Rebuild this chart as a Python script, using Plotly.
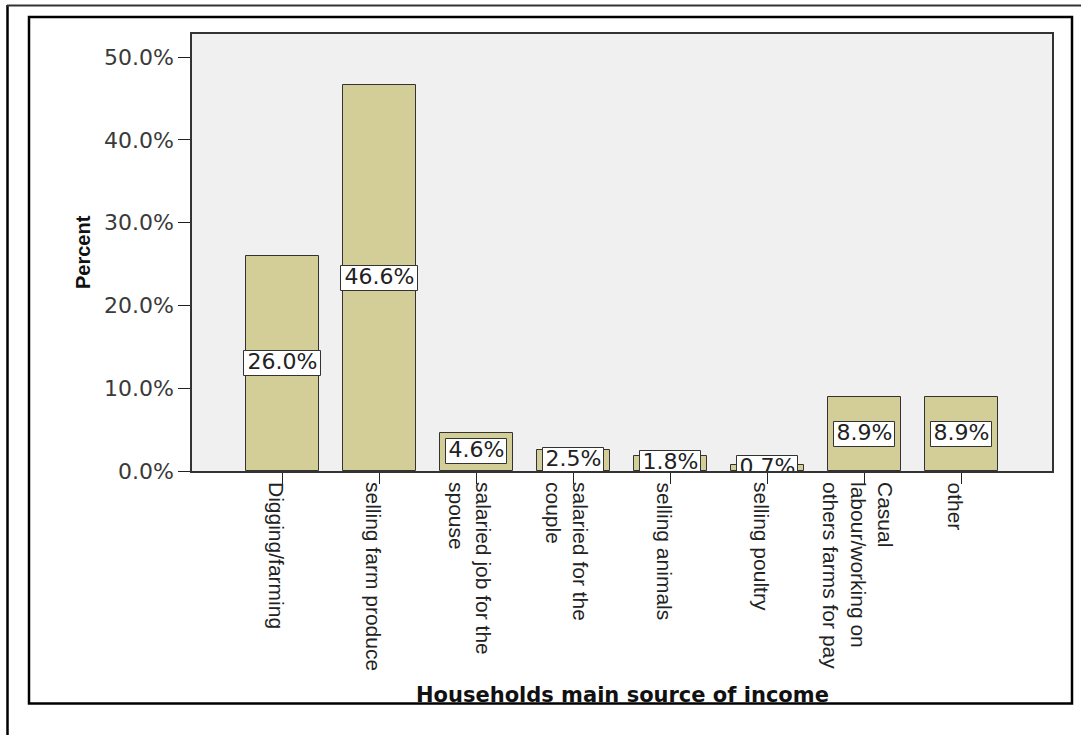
import plotly.graph_objects as go

# ---------------- data ----------------
categories = ["Digging/farming", "selling farm produce", "salaried job for the spouse",
              "salaried for the couple", "selling animals", "selling poultry",
              "Casual labour/working on others farms for pay", "other"]
tick_labels = ["Digging/farming", "selling farm produce", "salaried job for the<br>spouse",
               "salaried for the<br>couple", "selling animals", "selling poultry",
               "Casual<br>labour/working on<br>others farms for pay", "other"]
percent = [26.0, 46.6, 4.6, 2.5, 1.8, 0.7, 8.9, 8.9]
y_tick_values = [0, 10, 20, 30, 40, 50]
y_tick_labels = ["0.0%", "10.0%", "20.0%", "30.0%", "40.0%", "50.0%"]
x_title = "Households main source of income"
y_title = "Percent"

# ---------------- layout geometry ----------------
W, H = 1081, 735
L, R, T, B = 192, 29, 34, 264
plot_w = W - L - R
plot_h = H - T - B
y_max = 52.78
x_range = [-0.933, 7.933]
px_per_cat = plot_w / (x_range[1] - x_range[0])
px_per_unit = plot_h / y_max

def pxx(px):
    return (px - L) / plot_w

def pyy(py):
    return (H - B - py) / plot_h

bar_color = "#d3ce97"
value_labels = [f"{v:.1f}%" for v in percent]
box_h = 25 / px_per_unit
box_w = [(77 if len(s) > 4 else 61) / px_per_cat for s in value_labels]
box_base = [v / 2 - box_h / 2 for v in percent]

fig = go.Figure()
fig.add_trace(go.Bar(
    x=categories, y=percent, width=0.75,
    marker=dict(color=bar_color, line=dict(color="#333333", width=1)),
    hoverinfo="skip", showlegend=False,
))
fig.add_trace(go.Bar(
    x=categories, y=[box_h] * len(percent), base=box_base, width=box_w,
    marker=dict(color="white", line=dict(color="#333333", width=1)),
    hoverinfo="skip", showlegend=False,
))
fig.add_trace(go.Scatter(
    x=categories, y=[v / 2 for v in percent], mode="text", text=value_labels,
    textposition="middle center", cliponaxis=True,
    textfont=dict(family="DejaVu Sans", size=22, color="#222222"),
    hoverinfo="skip", showlegend=False,
))

annotations = []
for cat, lab in zip(categories, tick_labels):
    annotations.append(dict(
        x=cat, y=0, xref="x", yref="y", text=lab, textangle=90,
        xanchor="center", yanchor="top", xshift=-6, yshift=-9, align="left",
        showarrow=False, font=dict(family="Liberation Sans", size=21, color="#222222"),
    ))
annotations.append(dict(
    x=0.5, y=pyy(695), xref="paper", yref="paper", text=f"<b>{x_title}</b>",
    xanchor="center", yanchor="middle", showarrow=False,
    font=dict(family="DejaVu Sans", size=21, color="#111111"),
))
annotations.append(dict(
    x=pxx(83), y=pyy(252), xref="paper", yref="paper", text=f"<b>{y_title}</b>",
    textangle=-90, xanchor="center", yanchor="middle", showarrow=False,
    font=dict(family="Liberation Sans", size=20, color="#111111"),
))

shapes = [
    # inner frame
    dict(type="rect", xref="paper", yref="paper", x0=pxx(29), x1=pxx(1072),
         y0=pyy(703.5), y1=pyy(17), line=dict(color="black", width=2.5), layer="below"),
    # outer page lines
    dict(type="line", xref="paper", yref="paper", x0=pxx(7.5), x1=pxx(7.5),
         y0=pyy(5), y1=pyy(736), line=dict(color="black", width=2.5)),
    dict(type="line", xref="paper", yref="paper", x0=pxx(7), x1=pxx(1082),
         y0=pyy(5.5), y1=pyy(5.5), line=dict(color="#333333", width=2)),
]

fig.update_layout(
    width=W, height=H, margin=dict(l=L, r=R, t=T, b=B),
    paper_bgcolor="white", plot_bgcolor="#f0f0f0",
    barmode="overlay", bargap=0, showlegend=False,
    annotations=annotations, shapes=shapes,
    xaxis=dict(range=x_range, type="category", showgrid=False, zeroline=False,
               showticklabels=False, ticks="outside", ticklen=11, tickwidth=1.2,
               tickcolor="#222222", showline=True, linecolor="#333333", linewidth=1.5,
               mirror=True, fixedrange=True),
    yaxis=dict(range=[0, y_max], showgrid=False, zeroline=False,
               tickmode="array", tickvals=y_tick_values, ticktext=y_tick_labels,
               ticks="outside", ticklen=12, tickwidth=1.2, tickcolor="#222222",
               tickfont=dict(family="DejaVu Sans", size=22, color="#3a3a3a"),
               showline=True, linecolor="#333333", linewidth=1.5, mirror=True,
               fixedrange=True),
)

fig.write_html("out.html")
